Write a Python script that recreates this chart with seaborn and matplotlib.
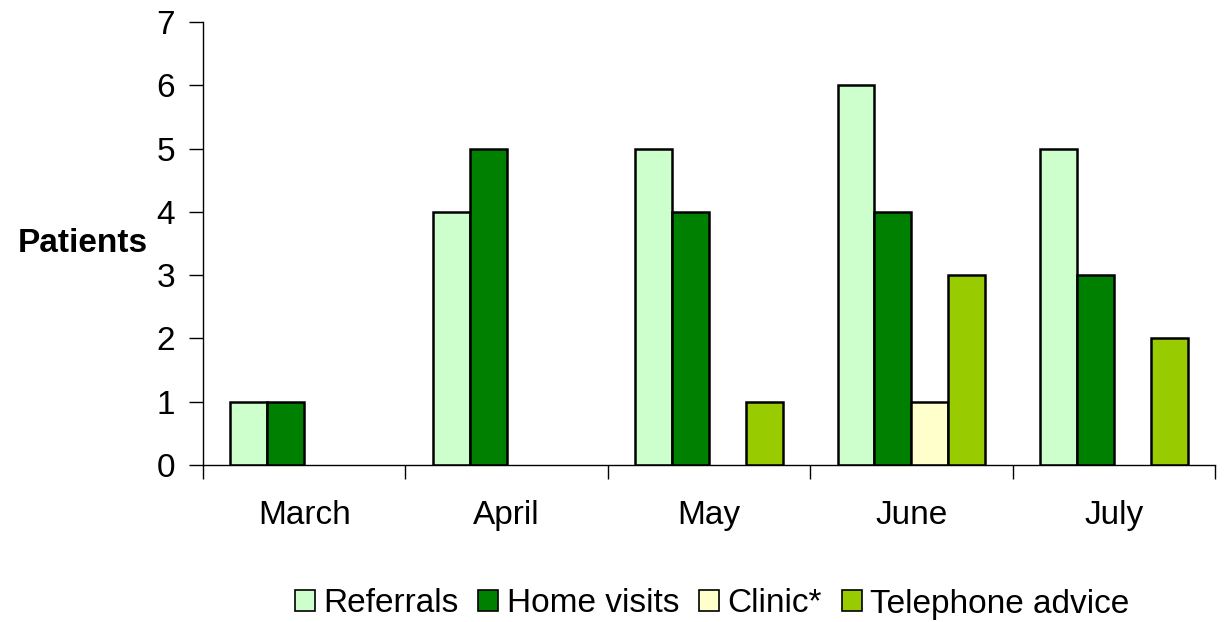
import matplotlib
matplotlib.use("Agg")
import matplotlib.pyplot as plt
import seaborn as sns
import pandas as pd
import numpy as np
from matplotlib.patches import Patch

months = ["March", "April", "May", "June", "July"]
series = ["Referrals", "Home visits", "Clinic*", "Telephone advice"]
referrals = [1, 4, 5, 6, 5]
home_visits = [1, 5, 4, 4, 3]
clinic = [0, 0, 0, 1, 0]
telephone = [0, 0, 1, 3, 2]
colors = ["#CCFFCC", "#008000", "#FFFFCC", "#99CC00"]

rows = []
for s, vals in zip(series, [referrals, home_visits, clinic, telephone]):
    for m, v in zip(months, vals):
        rows.append({"Month": m, "Series": s, "Patients": v})
df = pd.DataFrame(rows)

sns.set_style("white")
plt.rcParams["font.family"] = ["Liberation Sans", "DejaVu Sans"]
plt.rcParams["text.color"] = "black"
plt.rcParams["axes.labelcolor"] = "black"
plt.rcParams["xtick.color"] = "black"
plt.rcParams["ytick.color"] = "black"

fig = plt.figure(figsize=(12.28, 6.22), dpi=100)
ax = fig.add_axes([203/1228, 1 - 465/622, (1215-203)/1228, (465-22)/622])

sns.barplot(data=df, x="Month", y="Patients", hue="Series", order=months,
            hue_order=series, palette=colors, width=0.73, edgecolor="black",
            linewidth=1.8, saturation=1, ax=ax, legend=False)
# zero-valued bars are not drawn in the original
for p in ax.patches:
    if p.get_height() == 0:
        p.set_visible(False)

ax.set_ylim(0, 7)
ax.set_xlim(-0.5, 4.5)
ax.set_yticks(range(0, 8))
ax.tick_params(axis="y", labelsize=24, length=10, width=1, direction="out", left=True, pad=10)
ax.tick_params(axis="x", which="major", labelsize=24, length=0, pad=25)
ax.set_xticks(np.arange(-0.5, 5, 1), minor=True)
ax.tick_params(axis="x", which="minor", length=10, width=1, direction="out", bottom=True)
for s in ["top", "right"]:
    ax.spines[s].set_visible(False)
for s in ["left", "bottom"]:
    ax.spines[s].set_color("black")
    ax.spines[s].set_linewidth(1)
ax.set_xlabel("")
ax.set_ylabel("Patients", fontsize=24, fontweight="bold", rotation=0, labelpad=0)
ax.yaxis.set_label_coords(-0.054, 0.5)
ax.yaxis.label.set_horizontalalignment("right")
ax.yaxis.label.set_verticalalignment("center")

handles = [Patch(facecolor=c, edgecolor="black", linewidth=1.2) for c in colors]
fig.legend(handles, series, loc="center", bbox_to_anchor=(712/1228, 1 - 604/622),
           ncol=4, frameon=False, fontsize=24, handlelength=0.6, handleheight=0.6,
           handletextpad=0.25, columnspacing=0.6)

fig.savefig("out.png", dpi=100)
